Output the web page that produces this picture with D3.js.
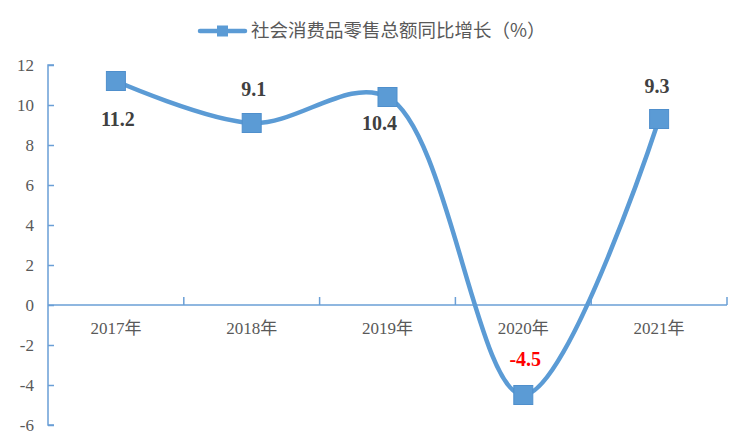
<!DOCTYPE html>
<html><head><meta charset="utf-8">
<script src="https://cdn.jsdelivr.net/npm/d3@7/dist/d3.min.js"></script>
<style>body{margin:0;background:#fff}svg{display:block}</style>
</head><body>
<svg id="c" width="750" height="448"></svg>
<script>
const categories = ["2017年","2018年","2019年","2020年","2021年"];
const values = [11.2, 9.1, 10.4, -4.5, 9.3];
const labels = ["11.2","9.1","10.4","-4.5","9.3"];
const yTicks = [-6,-4,-2,0,2,4,6,8,10,12];
const seriesName = "社会消费品零售总额同比增长（%）";

(function(){
const svg = d3.select("#c");
const mLeft = 48, mRight = 727, mTop = 65, mBottom = 425;
const blue = "#5B9BD5", axisBlue = "#6A9FD6";
const x = d3.scaleBand().domain(categories).range([mLeft, mRight]);
const y = d3.scaleLinear().domain([-6, 12]).range([mBottom, mTop]);

// y axis
const ya = svg.append("g").attr("transform", `translate(${mLeft},0)`)
  .call(d3.axisRight(y).tickValues(yTicks).tickSize(6).tickFormat(""));
ya.select(".domain").attr("stroke", axisBlue).attr("stroke-width", 1.5).attr("d", `M6,${mBottom}H0V${mTop}H6`);
ya.selectAll(".tick line").attr("stroke", axisBlue).attr("stroke-width", 1.5);
svg.append("g").selectAll("text").data(yTicks).join("text")
  .attr("x", 34).attr("y", d => y(d)).attr("dy", "0.35em")
  .attr("text-anchor", "end").attr("fill", "#595959")
  .attr("font-family", "Liberation Serif, serif").attr("font-size", 17)
  .text(d => d);

// x axis at zero
const y0 = y(0);
const boundaries = categories.map(c => x(c)).concat([mRight]).slice(1);
svg.append("line").attr("x1", mLeft).attr("x2", mRight).attr("y1", y0).attr("y2", y0)
  .attr("stroke", axisBlue).attr("stroke-width", 1.5);
svg.append("g").selectAll("line").data(boundaries).join("line")
  .attr("x1", d => d).attr("x2", d => d).attr("y1", y0).attr("y2", y0 - 8)
  .attr("stroke", axisBlue).attr("stroke-width", 1.5);
svg.append("g").selectAll("text").data(categories).join("text")
  .attr("x", d => x(d) + x.bandwidth()/2).attr("y", y0 + 23).attr("dy", "0.35em")
  .attr("text-anchor", "middle").attr("fill", "#595959")
  .attr("font-family", "Liberation Serif, 'Noto Sans CJK SC', serif").attr("font-size", 17)
  .text(d => d);

// line
const pts = categories.map((c, i) => [x(c) + x.bandwidth()/2, y(values[i])]);
svg.append("path").datum(pts)
  .attr("d", d3.line().curve(d3.curveCatmullRom.alpha(0.5)))
  .attr("fill", "none").attr("stroke", blue).attr("stroke-width", 4.5).attr("stroke-linecap", "round");

// markers
const ms = 19;
svg.append("g").selectAll("rect").data(pts).join("rect")
  .attr("x", d => d[0] - ms/2).attr("y", d => d[1] - ms/2)
  .attr("width", ms).attr("height", ms)
  .attr("fill", blue).attr("stroke", "#4F8FCC").attr("stroke-width", 1);

// data labels
const offs = [[2, 38], [2, -34], [-8, 26], [2, -36], [-2, -33]];
svg.append("g").selectAll("text").data(pts).join("text")
  .attr("x", (d, i) => d[0] + offs[i][0]).attr("y", (d, i) => d[1] + offs[i][1]).attr("dy", "0.35em")
  .attr("text-anchor", "middle")
  .attr("fill", (d, i) => values[i] < 0 ? "#FF0000" : "#404040")
  .attr("font-family", "Liberation Serif, serif").attr("font-weight", "bold").attr("font-size", 20)
  .text((d, i) => labels[i]);

// legend
const lg = svg.append("g");
lg.append("line").attr("x1", 200).attr("x2", 245).attr("y1", 31).attr("y2", 31)
  .attr("stroke", blue).attr("stroke-width", 4.5).attr("stroke-linecap", "round");
lg.append("rect").attr("x", 217).attr("y", 25.5).attr("width", 11).attr("height", 11).attr("fill", blue);
lg.append("text").attr("x", 251).attr("y", 31).attr("dy", "0.35em")
  .attr("fill", "#595959").attr("font-family", "'Noto Sans CJK SC', sans-serif").attr("font-size", 18.5)
  .text(seriesName);
})();
</script>
</body></html>
